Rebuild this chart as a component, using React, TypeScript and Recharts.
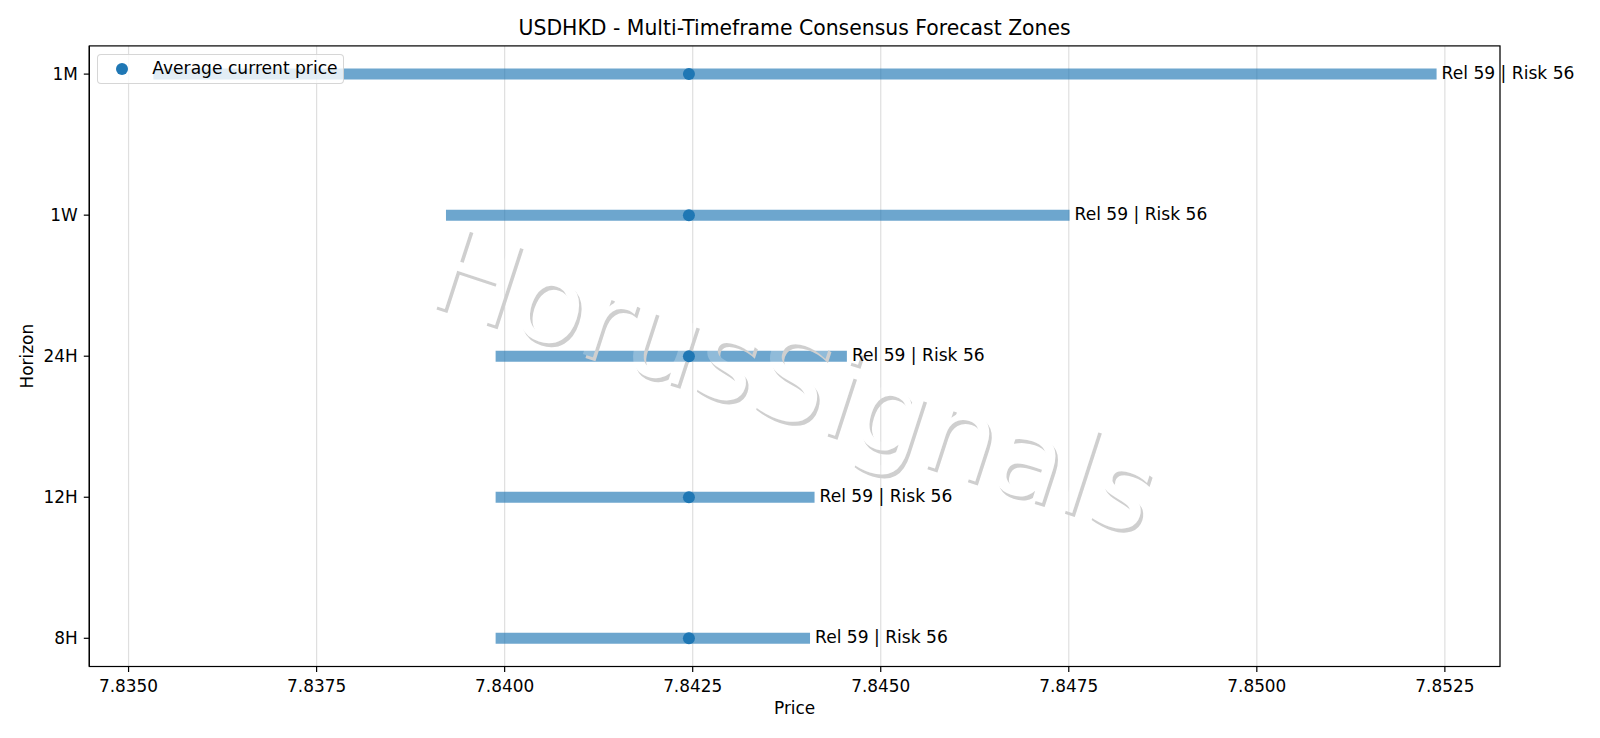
import React from 'react'
import { ComposedChart, Bar, Line, XAxis, YAxis, CartesianGrid, Legend } from 'recharts'

const horizons = ['1M', '1W', '24H', '12H', '8H']
const rowPositions = [0, 1, 2, 3, 4]
const zoneLow = [7.83533, 7.83922, 7.83988, 7.83988, 7.83988]
const zoneHigh = [7.85239, 7.84751, 7.84455, 7.84412, 7.84406]
const avgPrice = [7.84245, 7.84245, 7.84245, 7.84245, 7.84245]
const relScores = [59, 59, 59, 59, 59]
const riskScores = [56, 56, 56, 56, 56]
const priceTicks = [7.835, 7.8375, 7.84, 7.8425, 7.845, 7.8475, 7.85, 7.8525]

const FONT = '"DejaVu Sans", sans-serif'
const BLUE = '#1f77b4'
const WIDTH = 1600
const HEIGHT = 738
const PLOT = { left: 89.3, top: 45.9, right: 1500, bottom: 666.5 }
const FS = 17.1
const PRICE_DOMAIN = [7.834478, 7.853233]
const ROW_DOMAIN = [-0.2, 4.2]

const chartData = horizons.map((h, i) => ({
  horizon: h,
  pos: rowPositions[i],
  zone: [zoneLow[i], zoneHigh[i]],
  avg: avgPrice[i],
}))

const ZoneLabel = ({ x, y, width, height, index }: any) => (
  <text x={x + width + 5} y={y + height / 2 + 5} fontSize={FS} fontFamily={FONT} fill="#000">
    {`Rel ${relScores[index]} | Risk ${riskScores[index]}`}
  </text>
)

const LegendBox = ({ payload }: any) => {
  const items = (payload ?? []).filter((p: any) => p.value === 'Average current price')
  return (
    <div style={{
      width: 247, height: 30, boxSizing: 'border-box',
      background: 'rgba(255,255,255,0.8)',
      border: '1px solid rgba(204,204,204,0.8)',
      borderRadius: 4,
      display: 'flex', alignItems: 'center',
      fontFamily: FONT, fontSize: FS, color: '#000',
    }}>
      {items.map((p: any) => (
        <React.Fragment key={p.value}>
          <span style={{ width: 12, height: 12, borderRadius: 6, background: BLUE, marginLeft: 18 }} />
          <span style={{ marginLeft: 24, whiteSpace: 'nowrap', marginTop: -2 }}>{p.value}</span>
        </React.Fragment>
      ))}
    </div>
  )
}

// gray copy sits behind the white one, only its edge shows past the letters
const Watermark = () => (
  <svg width={WIDTH} height={HEIGHT} style={{ position: 'absolute', left: 0, top: 0, pointerEvents: 'none' }}>
    <defs>
      <mask id="wm-cut" maskUnits="userSpaceOnUse" x={0} y={0} width={WIDTH} height={HEIGHT}>
        <rect x={0} y={0} width={WIDTH} height={HEIGHT} fill="#fff" />
        <text transform="translate(781.5 418.5) rotate(18)" textAnchor="middle" fontFamily={FONT} fontSize={115.5} fill="#000">
          HorusSignals
        </text>
      </mask>
    </defs>
    <g mask="url(#wm-cut)">
      <text transform="translate(784 422.5) rotate(18)" textAnchor="middle" fontFamily={FONT} fontSize={115.5} fill="#cfcfcf">
        HorusSignals
      </text>
    </g>
    <text transform="translate(781.5 418.5) rotate(18)" textAnchor="middle" fontFamily={FONT} fontSize={115.5} fill="#fff" fillOpacity={0.24}>
      HorusSignals
    </text>
  </svg>
)

export default function App() {
  return (
    <div style={{ position: 'absolute', left: 0, top: 0, width: WIDTH, height: HEIGHT, background: '#fff' }}>
      {/* axes, grid and zones go under the watermark */}
      <ComposedChart
        width={WIDTH}
        height={HEIGHT}
        data={chartData}
        layout="vertical"
        margin={{ top: PLOT.top, right: WIDTH - PLOT.right, bottom: 0, left: 0 }}
      >
        <CartesianGrid horizontal={false} stroke="#808080" strokeOpacity={0.25} strokeWidth={1.2} />
        <XAxis
          type="number"
          domain={PRICE_DOMAIN}
          ticks={priceTicks}
          allowDataOverflow
          tickFormatter={(v: number) => v.toFixed(4)}
          height={HEIGHT - PLOT.bottom}
          stroke="#000"
          strokeWidth={1.2}
          tickSize={5.5}
          tickMargin={8}
          tick={{ fill: '#000', fontSize: 16.9, fontFamily: FONT }}
          label={{ value: 'Price', position: 'insideTop', offset: 36, fill: '#000', fontSize: 16.9, fontFamily: FONT }}
        />
        <YAxis
          type="number"
          dataKey="pos"
          domain={ROW_DOMAIN}
          ticks={rowPositions}
          interval={0}
          tickFormatter={(v: number) => horizons[v]}
          width={PLOT.left}
          stroke="#000"
          strokeWidth={1.2}
          tickSize={5.5}
          tickMargin={6}
          tick={{ fill: '#000', fontSize: 16.9, fontFamily: FONT }}
          label={{ value: 'Horizon', angle: -90, position: 'insideLeft', offset: 27, fill: '#000', fontSize: 16.9, fontFamily: FONT, style: { textAnchor: 'middle' } }}
        />
        <Bar dataKey="zone" barSize={11} fill={BLUE} fillOpacity={0.65} isAnimationActive={false} />
        <rect
          x={PLOT.left}
          y={PLOT.top}
          width={PLOT.right - PLOT.left}
          height={PLOT.bottom - PLOT.top}
          fill="none"
          stroke="#000"
          strokeWidth={1.2}
        />
        <text x={794.6} y={35} textAnchor="middle" fontSize={20.4} fontFamily={FONT} fill="#000">
          USDHKD - Multi-Timeframe Consensus Forecast Zones
        </text>
      </ComposedChart>
      <Watermark />
      {/* dots, zone labels and legend stay above it, same scales with hidden axes */}
      <div style={{ position: 'absolute', left: 0, top: 0 }}>
        <ComposedChart
          width={WIDTH}
          height={HEIGHT}
          data={chartData}
          layout="vertical"
          margin={{ top: PLOT.top, right: WIDTH - PLOT.right, bottom: HEIGHT - PLOT.bottom, left: PLOT.left }}
        >
          <XAxis type="number" domain={PRICE_DOMAIN} allowDataOverflow hide />
          <YAxis type="number" dataKey="pos" domain={ROW_DOMAIN} hide />
          <Legend
            layout="horizontal"
            align="center"
            verticalAlign="middle"
            wrapperStyle={{ left: 97.3, top: 54, width: 247 }}
            content={<LegendBox />}
          />
          <Bar
            dataKey="zone"
            barSize={11}
            fill="none"
            isAnimationActive={false}
            label={<ZoneLabel />}
            legendType="none"
          />
          <Line
            dataKey="avg"
            name="Average current price"
            stroke="none"
            dot={{ r: 6, fill: BLUE, stroke: BLUE, strokeWidth: 0, fillOpacity: 1 }}
            isAnimationActive={false}
          />
        </ComposedChart>
      </div>
    </div>
  )
}
